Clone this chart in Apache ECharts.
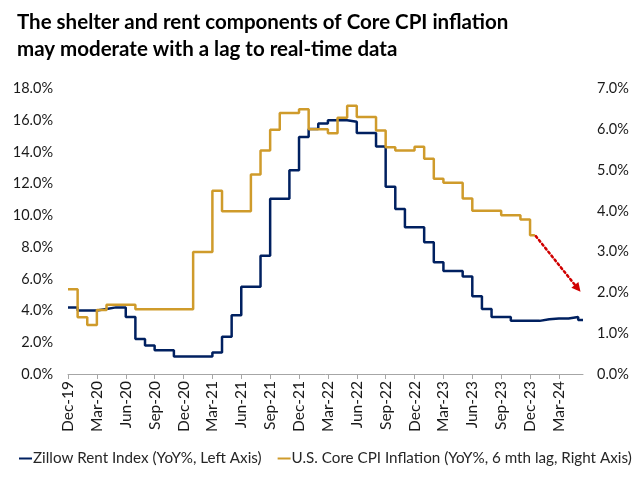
<!DOCTYPE html>
<html>
<head>
<meta charset="utf-8">
<script src="https://cdn.jsdelivr.net/npm/echarts@6/dist/echarts.min.js"></script>
<style>
html,body{margin:0;padding:0;background:#fff;}
#chart{width:640px;height:478px;}
</style>
</head>
<body>
<div id="chart"></div>
<script>
// Monthly index 0 = Dec-19
const tickLabels = ['Dec-19','Mar-20','Jun-20','Sep-20','Dec-20','Mar-21','Jun-21','Sep-21','Dec-21','Mar-22','Jun-22','Sep-22','Dec-22','Mar-23','Jun-23','Sep-23','Dec-23','Mar-24'];
// Zillow Rent Index YoY% (left axis), Dec-19 .. May-24
const zillow = [4.2,4.0,4.0,4.1,4.2,4.2,3.6,2.2,1.8,1.5,1.5,1.1,1.1,1.1,1.1,1.35,2.35,3.7,5.5,5.5,7.45,11.05,11.05,12.85,14.95,15.45,15.8,16.0,16.0,15.9,15.2,15.2,14.35,11.8,10.4,9.25,9.25,8.3,7.05,6.5,6.5,6.15,4.9,4.1,3.6,3.6,3.35,3.35,3.35,3.45,3.5,3.5,3.6,3.4];
// U.S. Core CPI YoY% (6 mth lag, right axis), Dec-19 .. Dec-23
const coreCpi = [2.08,1.39,1.2,1.57,1.7,1.7,1.7,1.59,1.59,1.59,1.59,1.59,1.59,2.99,2.99,4.49,3.99,3.99,3.99,4.89,5.48,5.99,6.4,6.4,6.49,6.0,6.0,5.9,6.28,6.58,6.3,6.3,5.97,5.56,5.48,5.48,5.57,5.28,4.79,4.69,4.69,4.3,4.0,4.0,4.0,3.89,3.89,3.79,3.4];
// Projection arrow (month index, right-axis %)
const arrowStart = [48.6, 3.38];
const arrowEnd = [52.95, 2.1];

const FONT = 'Lato';
const navy = '#002060';
const gold = '#CF9B2B';

function toSteps(arr){
  const d = arr.map((v,i)=>[i,v]);
  d.push([arr.length - 0.5, arr[arr.length-1]]);
  return d;
}
const tickVals = tickLabels.map((_,i)=>i*3);

const chart = echarts.init(document.getElementById('chart'), null, {renderer:'canvas'});
chart.setOption({
  backgroundColor:'#fff',
  animation:false,
  title:{
    text:'The shelter and rent components of Core CPI inflation\nmay moderate with a lag to real-time data',
    left:12, top:4,
    textStyle:{fontFamily:FONT, fontWeight:'bold', fontSize:20.5, lineHeight:27, color:'#000'}
  },
  legend:{
    bottom:7, left:14,
    itemGap:16, itemWidth:13, itemHeight:2,
    icon:'rect',
    textStyle:{fontFamily:FONT, fontSize:15.2, color:'#262626', padding:[0,0,0,-4]},
    data:['Zillow Rent Index (YoY%, Left Axis)','U.S. Core CPI Inflation (YoY%, 6 mth lag, Right Axis)']
  },
  grid:{left:68, right:57, top:88.5, bottom:104},
  xAxis:{
    type:'value', min:0, max:53.5,
    splitLine:{show:false},
    axisLine:{show:true, lineStyle:{color:'#A6A6A6', width:1}},
    axisTick:{show:true, length:5, lineStyle:{color:'#A6A6A6'}, customValues:tickVals},
    axisLabel:{
      customValues:tickVals,
      rotate:90, margin:7,
      fontFamily:FONT, fontSize:15.5, color:'#1a1a1a',
      formatter:(v)=>tickLabels[Math.round(v/3)]
    }
  },
  yAxis:[
    {type:'value', min:0, max:18, interval:2, position:'left',
     splitLine:{show:false}, axisLine:{show:false}, axisTick:{show:false},
     axisLabel:{margin:15, fontFamily:FONT, fontSize:14.5, color:'#1a1a1a', formatter:v=>v.toFixed(1)+'%'}},
    {type:'value', min:0, max:7, interval:1, position:'right',
     splitLine:{show:false}, axisLine:{show:false}, axisTick:{show:false},
     axisLabel:{margin:14, fontFamily:FONT, fontSize:14.5, color:'#1a1a1a', formatter:v=>v.toFixed(1)+'%'}}
  ],
  series:[
    {name:'Zillow Rent Index (YoY%, Left Axis)', type:'line', yAxisIndex:0, step:'end',
     showSymbol:false, symbol:'none', color:navy,
     lineStyle:{color:navy, width:2.5}, data:toSteps(zillow)},
    {name:'U.S. Core CPI Inflation (YoY%, 6 mth lag, Right Axis)', type:'line', yAxisIndex:1, step:'end',
     showSymbol:false, symbol:'none', color:gold,
     lineStyle:{color:gold, width:2.5}, data:toSteps(coreCpi),
     markLine:{
       silent:true, animation:false,
       symbol:['none','triangle'], symbolSize:[9,9],
       label:{show:false},
       lineStyle:{color:'#D00000', width:2.5, type:[2,3], cap:'round'},
       data:[[{coord:arrowStart},{coord:arrowEnd}]]
     }}
  ]
});
</script>
</body>
</html>
